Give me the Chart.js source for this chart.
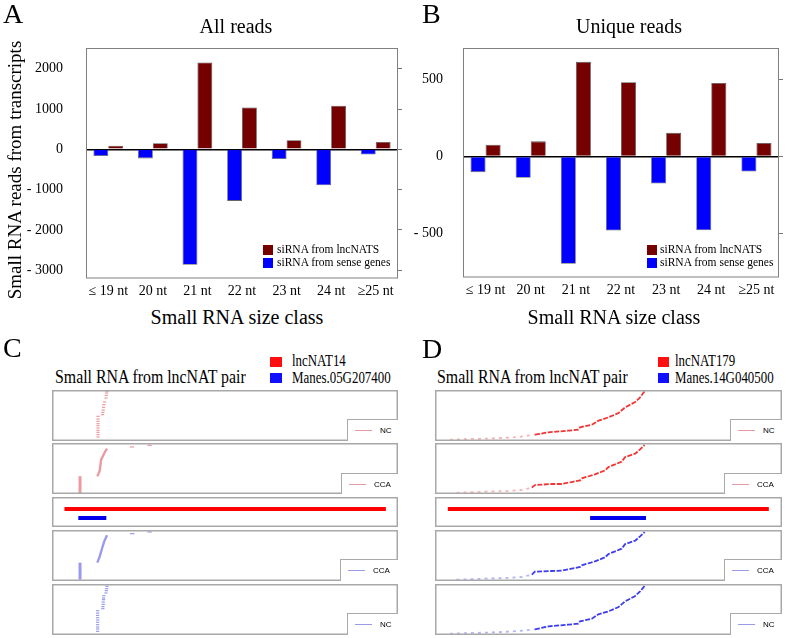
<!DOCTYPE html>
<html>
<head>
<meta charset="utf-8">
<script src="https://cdn.jsdelivr.net/npm/chart.js@4.4.0/dist/chart.umd.min.js"></script>
<style>
body { margin: 0; background: #fff; }
#fig { position: relative; width: 787px; height: 638px; overflow: hidden; font-family: 'Liberation Serif', 'Times New Roman', serif; color: #000; }
#fig canvas { position: absolute; }
.t { position: absolute; white-space: nowrap; line-height: 1; }
.sq { position: absolute; }
.tleg { position: absolute; box-sizing: border-box; border-left: 1px solid #aaa; border-top: 1px solid #aaa; background: #fff;
        font: 8px 'Liberation Sans', Arial, sans-serif; white-space: nowrap; }
.tleg i { display: inline-block; width: 17px; height: 0; border-top: 1px solid; vertical-align: middle; margin: 0 8px 0 7px; }
</style>
</head>
<body>
<div id="fig">
  <canvas id="cA" width="402" height="300" style="left:0;top:0"></canvas>
  <canvas id="cB" width="387" height="300" style="left:400px;top:0"></canvas>

  <canvas id="c1" width="346" height="51" style="left:52px;top:390px"></canvas>
  <canvas id="c2" width="346" height="51" style="left:52px;top:443px"></canvas>
  <canvas id="c3" width="346" height="30" style="left:52px;top:497px"></canvas>
  <canvas id="c4" width="346" height="51" style="left:52px;top:530px"></canvas>
  <canvas id="c5" width="346" height="51" style="left:52px;top:584px"></canvas>
  <canvas id="d1" width="347" height="51" style="left:435px;top:390px"></canvas>
  <canvas id="d2" width="347" height="51" style="left:435px;top:443px"></canvas>
  <canvas id="d3" width="347" height="30" style="left:435px;top:497px"></canvas>
  <canvas id="d4" width="347" height="51" style="left:435px;top:530px"></canvas>
  <canvas id="d5" width="347" height="51" style="left:435px;top:584px"></canvas>

  <!-- panel letters and titles -->
  <div class="t" style="left:3px;top:-0.5px;font-size:28px">A</div>
  <div class="t" style="left:422px;top:-0.5px;font-size:28px">B</div>
  <div class="t" style="left:3px;top:333.5px;font-size:28px">C</div>
  <div class="t" style="left:422px;top:334.5px;font-size:28px">D</div>

  <div class="t" style="left:136px;width:200px;text-align:center;top:15.8px;font-size:20px">All reads</div>
  <div class="t" style="left:529px;width:200px;text-align:center;top:15.8px;font-size:20px">Unique reads</div>
  <div class="t" style="left:137px;width:200px;text-align:center;top:307.3px;font-size:20px">Small RNA size class</div>
  <div class="t" style="left:514px;width:200px;text-align:center;top:307.3px;font-size:20px">Small RNA size class</div>
  <div class="t" style="left:14px;top:170px;font-size:19px;transform:translate(-50%,-50%) rotate(-90deg)">Small RNA reads from transcripts</div>

  <!-- bar chart legends -->
  <div class="sq" style="left:263px;top:245px;width:10px;height:10px;background:#740000"></div>
  <div class="sq" style="left:263px;top:258px;width:10px;height:10px;background:#0000ff"></div>
  <div class="t" style="left:277px;top:244.3px;font-size:11.5px">siRNA from lncNATS</div>
  <div class="t" style="left:277px;top:257.3px;font-size:11.5px">siRNA from sense genes</div>
  <div class="sq" style="left:647px;top:245px;width:10px;height:10px;background:#740000"></div>
  <div class="sq" style="left:647px;top:258px;width:10px;height:10px;background:#0000ff"></div>
  <div class="t" style="left:660px;top:244.3px;font-size:11.5px">siRNA from lncNATS</div>
  <div class="t" style="left:660px;top:257.3px;font-size:11.5px">siRNA from sense genes</div>

  <!-- track titles and legends -->
  <div class="t" style="left:55px;top:367.6px;font-size:18px;transform:scaleX(0.88);transform-origin:left">Small RNA from lncNAT pair</div>
  <div class="t" style="left:437px;top:367.6px;font-size:18px;transform:scaleX(0.88);transform-origin:left">Small RNA from lncNAT pair</div>
  <div class="sq" style="left:270px;top:357px;width:12px;height:10px;background:#ff1010"></div>
  <div class="sq" style="left:270px;top:373px;width:12px;height:10px;background:#1010ff"></div>
  <div class="t" style="left:292px;top:351.8px;font-size:17px;transform:scaleX(0.76);transform-origin:left">lncNAT14</div>
  <div class="t" style="left:292px;top:368.5px;font-size:17px;transform:scaleX(0.76);transform-origin:left">Manes.05G207400</div>
  <div class="sq" style="left:658px;top:357px;width:11px;height:10px;background:#ff1010"></div>
  <div class="sq" style="left:658px;top:373px;width:11px;height:10px;background:#1010ff"></div>
  <div class="t" style="left:675px;top:351.8px;font-size:17px;transform:scaleX(0.76);transform-origin:left">lncNAT179</div>
  <div class="t" style="left:675px;top:368.5px;font-size:17px;transform:scaleX(0.76);transform-origin:left">Manes.14G040500</div>

  <div class="tleg" style="left:347px;top:419px;width:51px;height:22px;line-height:22px"><i style="color:#e89aa0"></i>NC</div>
  <div class="tleg" style="left:341px;top:473px;width:57px;height:21px;line-height:21px"><i style="color:#e89aa0"></i>CCA</div>
  <div class="tleg" style="left:340px;top:559px;width:58px;height:22px;line-height:22px"><i style="color:#9a9ae8"></i>CCA</div>
  <div class="tleg" style="left:347px;top:613px;width:51px;height:22px;line-height:22px"><i style="color:#9a9ae8"></i>NC</div>
  <div class="tleg" style="left:730px;top:419px;width:52px;height:22px;line-height:22px"><i style="color:#e89aa0"></i>NC</div>
  <div class="tleg" style="left:724px;top:473px;width:58px;height:21px;line-height:21px"><i style="color:#e89aa0"></i>CCA</div>
  <div class="tleg" style="left:724px;top:559px;width:58px;height:22px;line-height:22px"><i style="color:#9a9ae8"></i>CCA</div>
  <div class="tleg" style="left:730px;top:613px;width:52px;height:22px;line-height:22px"><i style="color:#9a9ae8"></i>NC</div>
</div>

<script>
// bar charts (A, B)
const sizeClasses = ['≤ 19 nt', '20 nt', '21 nt', '22 nt', '23 nt', '24 nt', '≥25 nt'];
const allLnc = [90, 150, 2160, 1040, 225, 1085, 185];
const allSense = [-165, -225, -2865, -1280, -240, -890, -130];
const uniqLnc = [76, 98, 614, 482, 153, 477, 88];
const uniqSense = [-102, -139, -697, -481, -176, -479, -98];
const allTicks = [-3000, -2000, -1000, 0, 1000, 2000];
const uniqTicks = [-500, 0, 500];

// read tracks (C, D): x = position along the pair (0-100), y = read rank (0-100)
const lncSpanC = [3.6, 96.5];
const senseSpanC = [7.6, 15.7];
const lncSpanD = [3.7, 96.2];
const senseSpanD = [44.7, 60.8];

const cNcRed = [[13.3,48.4],[13.3,43.1],[13.3,38.6],[13.3,34.0],[13.3,30.1],[13.3,25.5],[13.3,20.9],[13.3,17.0],[13.3,12.4],[13.3,7.8],
  [14.6,51.6],[14.7,56.2],[14.8,60.8],[14.9,66.0],[15.0,71.2],[15.2,76.5],[15.6,84.3],[15.7,89.5],[15.8,94.1],[15.9,97.4]];
const cCcaRedStack = [[8.1,2],[8.1,35]];
const cCcaRedSlope = [[13.1,34.6],[13.8,45.7],[14.2,67.3],[14.9,77.1],[15.4,83.7],[15.9,88.9]];
const cCcaRedSpread = [[23.1,92.2],[28.2,95.4]];
const cCcaBlueStack = [[8.1,2.6],[8.1,35.9]];
const cCcaBlueSlope = [[13.1,35.9],[13.8,48.4],[14.5,64.7],[15.1,77.8],[15.9,89.5]];
const cCcaBlueSpread = [[23.2,92.8],[28.2,96.1]];
const cNcBlue = [[13.2,47.6],[13.2,43.0],[13.2,38.4],[13.2,33.9],[13.2,29.4],[13.2,24.8],[13.2,20.3],[13.2,15.7],[13.2,11.8],[13.2,7.2],
  [14.7,51.6],[14.7,55.6],[14.8,60.1],[14.8,64.7],[14.9,69.3],[14.9,72.5],[15.0,77.1],[15.6,82.4],[15.7,86.9],[15.8,90.8],[15.9,95.4]];

const dNcRed = [[4.3,2.6],[9.6,3.9],[14.4,4.6],[19.2,5.9],[24.0,7.8],[28.8,12.4],[32.7,17.0],[38.4,20.3],[41.3,22.2],[41.8,26.8],
  [45.2,32.0],[47.1,39.9],[50.0,46.4],[52.9,54.9],[54.8,66.0],[57.7,76.5],[59.1,85.6],[60.4,97.4]];
const dCcaRed = [[6.2,2.6],[11.5,3.9],[16.3,5.2],[21.1,5.9],[25.0,7.8],[27.9,12.4],[28.8,17.6],[33.6,19.6],[36.5,19.6],[39.4,23.5],
  [41.8,26.8],[42.3,30.7],[46.1,38.6],[49.0,46.4],[50.0,52.9],[53.8,63.4],[54.8,72.5],[57.7,79.1],[59.1,87.6],[60.4,96.1]];
const dCcaBlue = [[6.2,2.6],[11.5,3.9],[16.3,5.2],[20.2,5.9],[25.0,7.8],[27.9,12.4],[28.8,18.3],[33.6,19.6],[36.5,20.3],[39.4,24.2],
  [41.8,27.5],[42.3,30.7],[46.1,38.6],[49.0,46.4],[50.0,52.9],[53.8,63.4],[54.8,72.5],[57.7,79.1],[59.1,87.6],[60.4,96.1]];
const dNcBlue = [[4.3,2.6],[9.6,3.9],[14.4,4.6],[19.2,5.9],[24.0,7.8],[28.8,11.1],[32.7,17.0],[38.4,20.3],[41.3,22.2],[41.8,26.8],
  [45.2,32.0],[47.1,40.5],[50.0,46.4],[52.9,54.9],[54.8,66.0],[57.7,76.5],[59.1,85.6],[60.4,96.1]];

const serif = "'Liberation Serif', 'Times New Roman', serif";

// box round the plot area
const framePlugin = {
  id: 'frame',
  afterDraw(chart, args, opts) {
    const a = chart.chartArea, c = chart.ctx, w = opts.width;
    c.save();
    c.strokeStyle = opts.color;
    c.lineWidth = w;
    c.strokeRect(a.left + w / 2, a.top + w / 2, a.right - a.left - w, a.bottom - a.top - w);
    c.restore();
  }
};

function barChart(id, lnc, sense, ticks, yMin, yMax, leftW, leftPad, rightW, bottomH) {
  const setTicks = s => { s.ticks = ticks.map(v => ({ value: v })); };
  const noPadV = s => { s.paddingTop = 0; s.paddingBottom = 0; };
  return new Chart(document.getElementById(id), {
    type: 'bar',
    data: {
      labels: sizeClasses,
      datasets: [
        { label: 'siRNA from sense genes', data: sense, backgroundColor: '#0000ff', borderColor: '#666', borderWidth: 0.8 },
        { label: 'siRNA from lncNATS', data: lnc, backgroundColor: '#740000', borderColor: '#555', borderWidth: 0.8 }
      ]
    },
    options: {
      responsive: false,
      maintainAspectRatio: false,
      animation: false,
      layout: { autoPadding: false, padding: { top: 48, left: 0, right: 0, bottom: 0 } },
      datasets: { bar: { categoryPercentage: 0.667, barPercentage: 1 } },
      plugins: { legend: { display: false }, tooltip: { enabled: false }, frame: { color: '#808080', width: 1 } },
      scales: {
        x: {
          grid: { display: false, drawTicks: false }, border: { display: false },
          ticks: { color: '#000', font: { family: serif, size: 14 }, padding: 4.5, autoSkip: false, maxRotation: 0 },
          afterFit: s => { s.height = bottomH; s.paddingLeft = 0; s.paddingRight = 0; }
        },
        y: {
          min: yMin, max: yMax, afterBuildTicks: setTicks,
          grid: { drawTicks: false, lineWidth: 1.5, color: c => (c.tick && c.tick.value === 0) ? '#000' : 'rgba(0,0,0,0)' },
          border: { display: false },
          ticks: { color: '#000', font: { family: serif, size: 14 }, padding: leftPad, callback: v => v < 0 ? '- ' + (-v) : String(v) },
          afterFit: s => { s.width = leftW; noPadV(s); }
        },
        yR: {
          position: 'right', min: yMin, max: yMax, afterBuildTicks: setTicks,
          grid: { drawOnChartArea: false, drawTicks: true, tickLength: 4, color: '#777' },
          border: { display: false },
          ticks: { display: false },
          afterFit: s => { s.width = rightW; noPadV(s); }
        }
      }
    },
    plugins: [framePlugin]
  });
}

barChart('cA', allLnc, allSense, allTicks, -3207, 2517, 86, 23, 4, 21.5);
barChart('cB', uniqLnc, uniqSense, uniqTicks, -786, 704, 63, 20, 8, 22.5);

const toXY = arr => arr.map(p => ({ x: p[0], y: p[1] }));

function dashes(arr, color, r) {
  return { data: toXY(arr), pointStyle: 'line', pointRadius: r, borderColor: color, borderWidth: 1.2, showLine: false };
}
function run(arr, color, width) {
  return { data: toXY(arr), showLine: true, pointRadius: 0, borderColor: color, borderWidth: width };
}
function curve(arr, color, faint) {
  return {
    data: toXY(arr), showLine: true, pointRadius: 0, borderColor: color, borderWidth: 1.8, borderDash: [5, 1.5],
    segment: {
      borderColor: c => c.p0.parsed.y < 10 ? faint : color,
      borderDash: c => c.p0.parsed.y < 10 ? [3, 4] : [5, 1.5]
    }
  };
}

function track(id, datasets) {
  return new Chart(document.getElementById(id), {
    type: 'scatter',
    data: { datasets: datasets.map(d => Object.assign({ clip: false }, d)) },
    options: {
      responsive: false,
      maintainAspectRatio: false,
      animation: false,
      layout: { autoPadding: false, padding: 0 },
      plugins: { legend: { display: false }, tooltip: { enabled: false }, frame: { color: '#a8a8a8', width: 1.5 } },
      scales: {
        x: { type: 'linear', min: 0, max: 100, display: false },
        y: { type: 'linear', min: 0, max: 100, display: false }
      }
    },
    plugins: [framePlugin]
  });
}

function geneTrack(id, lncSpan, senseSpan) {
  return track(id, [
    run(lncSpan.map(x => [x, 60]), '#ff0000', 4),
    run(senseSpan.map(x => [x, 30]), '#0000ee', 4)
  ]);
}

const pinkC = 'rgba(228,120,130,0.75)';
const lilacC = 'rgba(120,120,225,0.75)';

track('c1', [dashes(cNcRed, pinkC, 1.6)]);
track('c2', [run(cCcaRedStack, pinkC, 3), run(cCcaRedSlope, pinkC, 2.4), dashes(cCcaRedSpread, pinkC, 2.2)]);
geneTrack('c3', lncSpanC, senseSpanC);
track('c4', [run(cCcaBlueStack, lilacC, 3), run(cCcaBlueSlope, lilacC, 2.4), dashes(cCcaBlueSpread, lilacC, 2.2)]);
track('c5', [dashes(cNcBlue, lilacC, 1.6)]);

track('d1', [curve(dNcRed, 'rgba(240,30,30,0.9)', 'rgba(235,90,90,0.45)')]);
track('d2', [curve(dCcaRed, 'rgba(240,30,30,0.9)', 'rgba(235,90,90,0.45)')]);
geneTrack('d3', lncSpanD, senseSpanD);
track('d4', [curve(dCcaBlue, 'rgba(40,40,235,0.9)', 'rgba(90,90,235,0.45)')]);
track('d5', [curve(dNcBlue, 'rgba(40,40,235,0.9)', 'rgba(90,90,235,0.45)')]);
</script>
</body>
</html>
